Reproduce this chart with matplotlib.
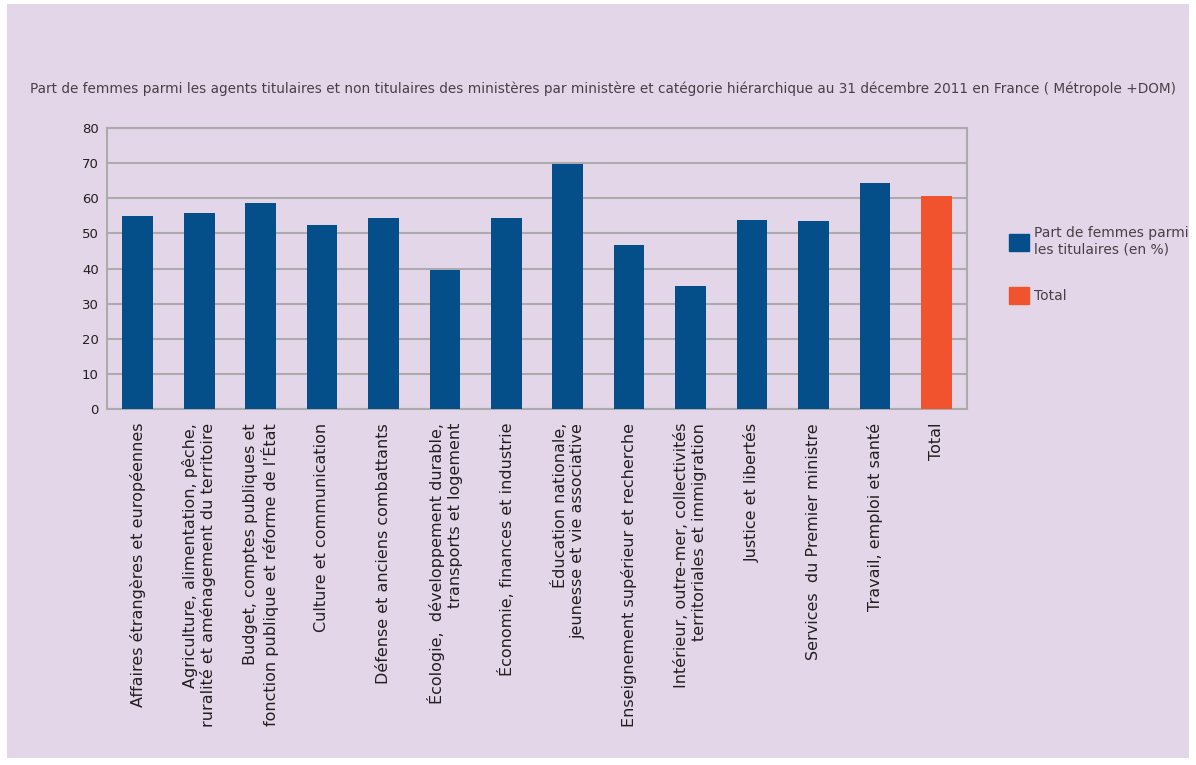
import matplotlib.pyplot as plt
from matplotlib.patches import Patch, Rectangle

plt.rcParams['font.family'] = ['DejaVu Sans']

ministeres = [
    "Affaires étrangères et européennes",
    "Agriculture, alimentation, pêche,\nruralité et aménagement du territoire",
    "Budget, comptes publiques et\nfonction publique et réforme de l\u2019État",
    "Culture et communication",
    "Défense et anciens combattants",
    "Écologie,  développement durable,\ntransports et logement",
    "Économie, finances et industrie",
    "Éducation nationale,\njeunesse et vie associative",
    "Enseignement supérieur et recherche",
    "Intérieur, outre-mer, collectivités\nterritoriales et immigration",
    "Justice et libertés",
    "Services  du Premier ministre",
    "Travail, emploi et santé",
]
part_femmes = [55.0, 55.8, 58.7, 52.4, 54.4, 39.6, 54.4, 69.8, 46.7, 35.1, 53.8, 53.6, 64.4]
total_label = "Total"
total_value = 60.7

titre = ("Part de femmes parmi les agents titulaires et non titulaires des ministères par ministère "
         "et catégorie hiérarchique au 31 décembre 2011 en France ( Métropole +DOM)")

bleu = '#044E8A'
orange = '#F0532D'
fond = '#E3D6E9'
gris = '#ABABAB'

fig = plt.figure(figsize=(11.96, 7.65), dpi=100, facecolor='white')
fig.patches.append(Rectangle((7 / 1196, 7 / 765), 1 - 14 / 1196, 1 - 11 / 765,
                             transform=fig.transFigure, facecolor=fond, edgecolor='none', zorder=-10))
ax = fig.add_axes([107 / 1196, 1 - 409 / 765, (967 - 107) / 1196, (409 - 128) / 765])
ax.set_facecolor(fond)

x = list(range(len(ministeres)))
ax.bar(x, part_femmes, width=0.5, color=bleu, zorder=3)
ax.bar([len(ministeres)], [total_value], width=0.5, color=orange, zorder=3)

ax.set_xlim(-0.5, len(ministeres) + 0.5)
ax.set_ylim(0, 80)
ax.set_yticks(range(0, 81, 10))
ax.grid(axis='y', color=gris, linewidth=1.5, zorder=0)
for s in ax.spines.values():
    s.set_color(gris)
    s.set_linewidth(1.5)

ax.set_xticks(x + [len(ministeres)])
ax.set_xticklabels(ministeres + [total_label], rotation=90, fontsize=11.5,
                   multialignment='right', color='#231F20')
ax.tick_params(axis='x', length=0, pad=10)
ax.tick_params(axis='y', length=0, labelsize=9.5, labelcolor='#231F20', pad=6)

fig.text(30 / 1196, 1 - 89 / 765, titre, fontsize=9.8, color='#4A3F47', va='center', ha='left')

handles = [Patch(color=bleu), Patch(color=orange)]
fig.legend(handles, ["Part de femmes parmi\nles titulaires (en %)", "Total"],
           loc='upper left', bbox_to_anchor=(996 / 1196, 1 - 214 / 765),
           frameon=False, fontsize=10, labelcolor='#4A3F47',
           handlelength=1.5, handleheight=1.5, handletextpad=0.3, labelspacing=2.2)

fig.savefig('out.png', dpi=100, facecolor=fig.get_facecolor())
